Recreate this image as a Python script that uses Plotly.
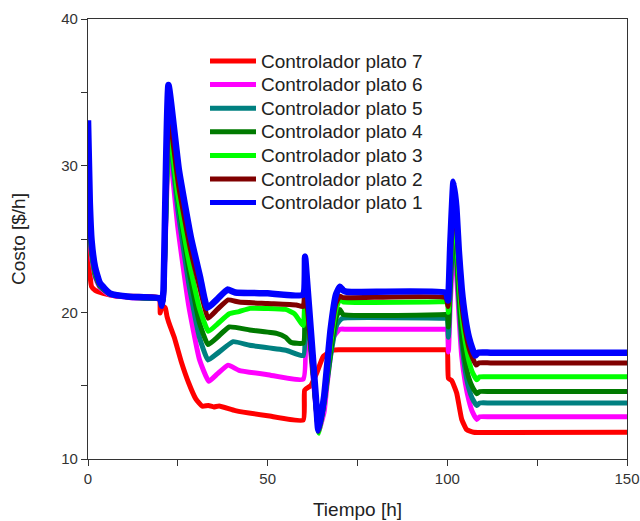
import plotly.graph_objects as go

# ---------------- data ----------------
names = ["Controlador plato 7", "Controlador plato 6", "Controlador plato 5",
         "Controlador plato 4", "Controlador plato 3", "Controlador plato 2",
         "Controlador plato 1"]

t_p7 = [0, 0.3, 0.7, 1.0, 2.0, 4.2, 8.0, 19.8, 20.1, 20.6, 21.5, 22.0, 22.5, 24.0, 26.0,
        28.0, 30.0, 31.8, 33.5, 35.0, 36.5, 41.0, 50.0, 59.9, 60.3, 62.0, 63.7, 65.5, 68.3,
        70.0, 99.5, 100.0, 100.3, 101.2, 102.6, 104.0, 105.4, 107.3, 112.0, 150]
y_p7 = [25.8, 23.5, 22.2, 21.75, 21.5, 21.3, 21.1, 21.0, 19.95, 20.45, 20.3, 19.7, 19.3,
        18.3, 16.6, 15.2, 14.1, 13.6, 13.65, 13.55, 13.62, 13.3, 12.95, 12.65, 14.7, 15.0,
        15.9, 17.0, 17.43, 17.45, 17.45, 17.45, 15.5, 15.35, 14.5, 12.7, 12.0, 11.82, 11.8,
        11.82]

t_p6 = [0, 0.5, 1.0, 2.0, 3.3, 6.0, 12.0, 20.0, 20.6, 21.0, 22.5, 25.0, 28.0, 31.0, 33.6,
        36.0, 39.0, 42.0, 50.0, 59.9, 60.4, 61.0, 62.0, 63.4, 64.2, 65.7, 66.5, 68.3, 70.1,
        72.0, 99.5, 100.0, 100.3, 100.8, 101.8, 102.6, 103.3, 104.0, 105.0, 106.0, 107.0,
        108.2, 109.0, 112.0, 150]
y_p6 = [28.0, 25.5, 23.8, 22.4, 21.7, 21.2, 21.0, 20.9, 20.5, 21.0, 31.5, 25.8, 20.5, 16.8,
        15.3, 15.8, 16.4, 16.05, 15.75, 15.45, 21.0, 19.5, 17.2, 13.6, 11.9, 13.2, 15.0, 18.3,
        18.85, 18.85, 18.85, 18.85, 17.3, 20.5, 25.0, 22.5, 19.5, 17.0, 15.2, 14.0, 13.2,
        12.7, 12.88, 12.88, 12.88]

t_p5 = [0, 0.5, 1.0, 2.0, 3.3, 6.0, 12.0, 20.0, 20.6, 21.0, 22.5, 25.0, 28.0, 31.0, 33.4,
        36.0, 40.4, 45.0, 55.3, 59.9, 60.4, 61.0, 62.0, 63.4, 64.2, 65.7, 67.5, 69.0, 70.1,
        71.0, 99.5, 100.0, 100.3, 100.8, 101.8, 102.6, 103.3, 104.0, 105.0, 106.0, 107.0,
        108.2, 109.0, 112.0, 150]
y_p5 = [29.0, 26.0, 24.0, 22.5, 21.8, 21.25, 21.02, 20.9, 20.5, 21.1, 32.3, 27.0, 22.0, 18.3,
        16.75, 17.2, 18.0, 17.75, 17.4, 17.05, 21.5, 20.0, 17.5, 13.7, 11.9, 13.8, 17.0, 19.0,
        19.45, 19.6, 19.6, 19.6, 18.3, 21.5, 26.0, 23.5, 20.5, 18.0, 16.0, 14.8, 14.1, 13.65,
        13.82, 13.82, 13.82]

t_p4 = [0, 0.5, 1.0, 2.0, 3.3, 6.0, 12.0, 20.0, 20.6, 21.0, 22.5, 25.0, 28.0, 31.0, 33.4,
        36.0, 39.3, 45.0, 52.5, 55.0, 56.5, 59.9, 60.4, 61.0, 62.0, 63.4, 64.2, 65.7, 67.5,
        69.0, 70.1, 71.0, 99.5, 100.0, 100.3, 100.8, 101.8, 102.6, 103.3, 104.0, 105.0, 106.0,
        107.0, 108.2, 109.0, 112.0, 150]
y_p4 = [29.5, 26.3, 24.2, 22.6, 21.8, 21.25, 21.02, 20.9, 20.5, 21.1, 32.8, 27.8, 23.0, 19.3,
        17.8, 18.3, 19.0, 18.8, 18.57, 18.3, 17.95, 17.9, 21.8, 20.3, 17.8, 13.9, 11.85, 13.9,
        17.3, 19.6, 20.2, 19.85, 19.85, 19.85, 19.0, 22.0, 26.5, 24.0, 21.0, 18.6, 16.6, 15.5,
        14.9, 14.45, 14.6, 14.6, 14.6]

t_p3 = [0, 0.5, 1.0, 2.0, 3.3, 6.0, 12.0, 20.0, 20.6, 21.0, 22.5, 25.0, 28.0, 31.0, 33.5,
        36.0, 39.3, 42.0, 45.1, 55.0, 57.5, 59.9, 60.4, 61.0, 62.0, 63.4, 64.3, 65.7, 67.5,
        69.0, 70.1, 71.0, 99.5, 100.0, 100.3, 100.8, 101.9, 102.6, 103.3, 104.0, 105.0, 106.0,
        107.0, 108.2, 109.0, 112.0, 150]
y_p3 = [30.0, 26.6, 24.4, 22.7, 21.85, 21.28, 21.03, 20.92, 20.5, 21.2, 32.5, 28.0, 23.6,
        20.3, 18.7, 19.2, 19.9, 20.05, 20.27, 20.2, 19.9, 19.1, 22.3, 20.5, 18.0, 13.8, 11.75,
        13.9, 17.8, 20.2, 20.9, 20.72, 20.72, 20.72, 20.0, 23.0, 27.0, 24.8, 22.0, 19.8, 18.0,
        16.7, 15.9, 15.4, 15.6, 15.6, 15.6]

t_p2 = [0, 0.5, 1.0, 2.0, 3.3, 6.0, 12.0, 20.0, 20.6, 21.0, 22.5, 25.3, 28.6, 31.2, 33.4,
        36.0, 39.0, 42.0, 50.0, 58.0, 59.9, 60.4, 61.0, 62.0, 63.4, 64.2, 65.7, 67.5, 69.0,
        70.1, 71.0, 99.6, 100.2, 100.8, 101.8, 102.6, 103.3, 104.0, 105.0, 106.0, 107.0,
        108.0, 108.8, 112.0, 150]
y_p2 = [31.0, 27.0, 24.5, 22.8, 21.9, 21.3, 21.05, 20.95, 20.5, 21.3, 33.5, 28.5, 24.2, 21.6,
        19.6, 20.2, 20.85, 20.7, 20.6, 20.5, 20.4, 22.5, 20.5, 17.8, 13.8, 11.9, 14.0, 18.3,
        20.6, 21.1, 21.0, 21.0, 20.4, 23.5, 27.6, 25.8, 23.0, 20.6, 18.8, 17.6, 16.9, 16.4,
        16.55, 16.55, 16.55]

t_p1 = [0, 0.5, 1.0, 1.95, 3.3, 6.1, 11.7, 20.0, 20.6, 21.0, 22.4, 25.3, 28.6, 31.2, 33.2,
        36.0, 38.8, 41.0, 50.0, 59.8, 60.4, 61.0, 62.0, 63.4, 64.1, 65.7, 67.5, 69.0, 70.1,
        71.0, 72.0, 99.6, 100.2, 100.8, 101.7, 102.5, 103.2, 104.0, 105.0, 106.0, 107.0,
        107.8, 108.6, 112.0, 150]
y_p1 = [33.1, 27.5, 24.9, 23.1, 22.0, 21.3, 21.06, 20.95, 20.45, 21.5, 35.5, 29.7, 25.15,
        22.4, 20.3, 20.9, 21.55, 21.35, 21.3, 21.2, 23.8, 22.0, 18.8, 14.25, 11.95, 14.25,
        18.8, 21.2, 21.75, 21.5, 21.4, 21.35, 20.8, 24.5, 28.9, 27.2, 24.2, 21.6, 19.6, 18.3,
        17.5, 17.05, 17.25, 17.25, 17.25]

times = [t_p7, t_p6, t_p5, t_p4, t_p3, t_p2, t_p1]
values = [y_p7, y_p6, y_p5, y_p4, y_p3, y_p2, y_p1]

x_ticks = [0, 50, 100, 150]
y_ticks = [10, 20, 30, 40]

# ---------------- styles ----------------
colors = ["#FF0000", "#FF00FF", "#008080", "#007A00", "#00FF00", "#800000", "#0000FF"]
widths = [5, 5, 5, 5, 5, 5, 6.5]

W, H = 640, 521
ML, MR, MT, MB = 88, 13, 19, 62
PW, PH = W - ML - MR, H - MT - MB

fig = go.Figure()
for n, tt, yy, c, w in zip(names, times, values, colors, widths):
    fig.add_trace(go.Scatter(x=tt, y=yy, mode="lines", name=n, showlegend=False,
                             line=dict(color=c, width=w, shape="spline", smoothing=0.4)))

# legend drawn by hand (longer sample lines, tighter spacing as in the reference)
leg_x0, leg_x1, leg_tx = 210, 256, 259   # pixels
leg_y0, leg_dy = 61, 23.6
for i, (n, c) in enumerate(zip(names, colors)):
    py = leg_y0 + i * leg_dy
    yp = 1 - (py - MT) / PH
    fig.add_shape(type="line", xref="paper", yref="paper",
                  x0=(leg_x0 - ML) / PW, x1=(leg_x1 - ML) / PW, y0=yp, y1=yp,
                  line=dict(color=c, width=5))
    fig.add_annotation(xref="paper", yref="paper", x=(leg_tx - ML) / PW, y=yp,
                       xanchor="left", yanchor="middle", text=n, showarrow=False,
                       font=dict(size=19, color="#222222"))

axis_common = dict(showgrid=False, zeroline=False, showline=True, linecolor="#333333",
                   linewidth=1.3, mirror=True, ticks="outside", ticklen=6, tickwidth=1.2,
                   tickcolor="#333333", tickfont=dict(size=15, color="#333333"),
                   automargin=False)

fig.update_xaxes(range=[0, 150], tickvals=x_ticks,
                 minor=dict(dtick=25, ticks="outside", ticklen=6, tickwidth=1.2,
                            tickcolor="#333333"),
                 title=dict(text="Tiempo [h]", font=dict(size=19, color="#222222"), standoff=16),
                 **axis_common)
fig.update_yaxes(range=[10, 40], tickvals=y_ticks,
                 minor=dict(dtick=5, ticks="outside", ticklen=6, tickwidth=1.2,
                            tickcolor="#333333"),
                 title=dict(text="Costo [$/h]", font=dict(size=19, color="#222222"), standoff=30),
                 **axis_common)

fig.update_layout(
    width=W, height=H,
    margin=dict(l=ML, r=MR, t=MT, b=MB),
    paper_bgcolor="white", plot_bgcolor="white",
    font=dict(family="Liberation Sans, Arial, sans-serif", color="#222222"),
    showlegend=False,
)

fig.write_html("out.html", config={"displayModeBar": False},
               post_script="document.body.style.margin='0';"
                           "document.body.style.overflow='hidden';")
